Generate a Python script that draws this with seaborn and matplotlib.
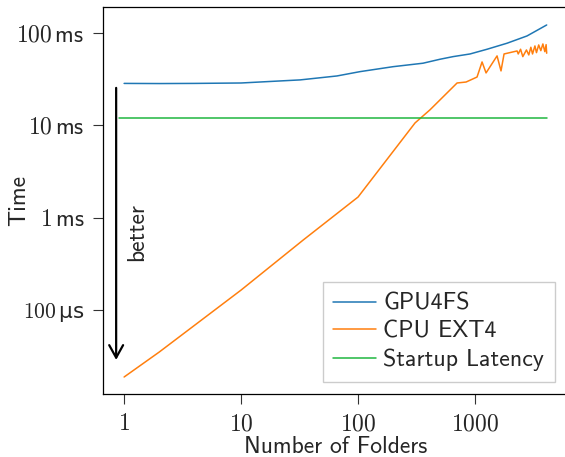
import pandas as pd
import matplotlib
matplotlib.use("Agg")
import matplotlib.pyplot as plt
import seaborn as sns
from matplotlib.ticker import NullLocator

# Données (temps en secondes)
gpu_folders = [1, 2, 4, 10, 32, 66, 104, 199, 359, 502, 649, 906, 1267, 1878, 2782, 4096]
gpu_time = [0.0284, 0.0283, 0.0284, 0.0287, 0.0310, 0.0342, 0.0381, 0.0431, 0.0470,
            0.0519, 0.0554, 0.0592, 0.0666, 0.0774, 0.0928, 0.122]

cpu_folders = [1, 2, 10, 34, 100, 307, 412, 702, 838, 1040, 1148, 1242, 1542, 1667,
               1770, 2287, 2340, 2450, 2560, 2750, 2880, 3000, 3100, 3250, 3350, 3500,
               3650, 3800, 3950, 4050, 4096]
cpu_time = [1.875e-5, 3.50e-5, 1.64e-4, 5.72e-4, 1.67e-3, 1.06e-2, 1.47e-2, 2.87e-2,
            2.94e-2, 3.33e-2, 4.85e-2, 3.69e-2, 5.64e-2, 3.88e-2, 5.92e-2, 6.38e-2,
            5.92e-2, 6.66e-2, 5.54e-2, 6.54e-2, 5.78e-2, 7.00e-2, 5.92e-2, 7.23e-2,
            6.12e-2, 7.41e-2, 6.43e-2, 7.60e-2, 6.27e-2, 7.47e-2, 6.03e-2]

startup_folders = [0.9, 4096]
startup_time = [0.0119, 0.0119]

series = ["GPU4FS", "CPU EXT4", "Startup Latency"]
colors = ["#1f77b4", "#ff7f0e", "#1fb640"]

y_ticks = [1e-4, 1e-3, 1e-2, 1e-1]
y_labels = [r"$100\,$µs", r"$1\,$ms", r"$10\,$ms", r"$100\,$ms"]
x_ticks = [1, 10, 100, 1000]
x_labels = [r"$1$", r"$10$", r"$100$", r"$1000$"]

df = pd.concat([
    pd.DataFrame({"folders": gpu_folders, "time": gpu_time, "serie": series[0]}),
    pd.DataFrame({"folders": cpu_folders, "time": cpu_time, "serie": series[1]}),
    pd.DataFrame({"folders": startup_folders, "time": startup_time, "serie": series[2]}),
], ignore_index=True)

sns.set_theme(style="ticks")
plt.rcParams["font.family"] = ["cmss10", "DejaVu Sans"]
plt.rcParams["mathtext.fontset"] = "cm"
plt.rcParams["axes.unicode_minus"] = False

fig = plt.figure(figsize=(5.65, 4.57), dpi=100)
ax = fig.add_axes([103 / 565, 63 / 457, 464 / 565, 387 / 457])

sns.lineplot(data=df, x="folders", y="time", hue="serie", hue_order=series,
             palette=dict(zip(series, colors)), linewidth=1.1, sort=False,
             estimator=None, ax=ax)

ax.set_xscale("log")
ax.set_yscale("log")
ax.set_xlim(0.66, 6110)
ax.set_ylim(1.227e-5, 0.191)
ax.set_xticks(x_ticks, x_labels)
ax.set_yticks(y_ticks, y_labels)
ax.xaxis.set_minor_locator(NullLocator())
ax.yaxis.set_minor_locator(NullLocator())
ax.tick_params(axis="both", labelsize=17, length=7, width=0.8, color="#333333")
ax.tick_params(axis="x", pad=7)
ax.tick_params(axis="y", pad=6.5)
# le µ n'existe pas dans cmss10
lbl_us = ax.get_yticklabels()[0]
lbl_us.set_fontfamily("DejaVu Sans")
lbl_us.set_fontsize(15.5)

for sp in ax.spines.values():
    sp.set_color("black")
    sp.set_linewidth(0.9)

ax.set_xlabel("Number of Folders", fontsize=17)
ax.set_ylabel("Time", fontsize=17)
ax.yaxis.set_label_coords(-0.157, 0.5)
ax.xaxis.set_label_coords(0.502, -0.108)

# Flèche "better"
ax.annotate("", xy=(0.855, 2.87e-5), xytext=(0.855, 0.0254),
            arrowprops=dict(arrowstyle="->,head_length=0.45,head_width=0.25",
                            lw=1.6, color="black", shrinkA=0, shrinkB=0,
                            mutation_scale=20))
ax.text(1.30, 7.0e-4, "better", rotation=90, ha="center", va="center", fontsize=17)

ax.legend(loc="lower right", fontsize=17.2, fancybox=False, framealpha=1,
          edgecolor="#cccccc", handlelength=1.8, handletextpad=0.3,
          labelspacing=0.25, borderpad=0.45)

fig.savefig("out.png", dpi=100)
